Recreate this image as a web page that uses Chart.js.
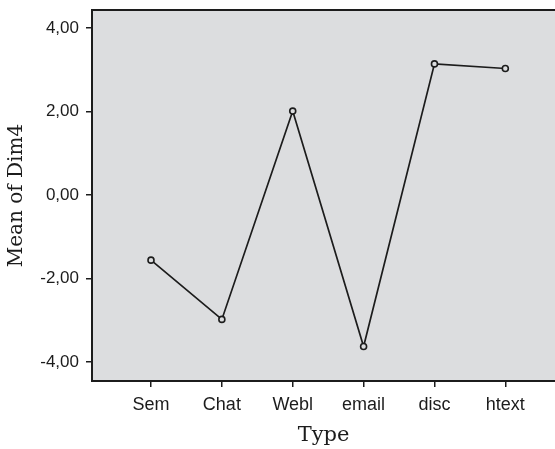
<!DOCTYPE html>
<html>
<head>
<meta charset="utf-8">
<script src="https://cdn.jsdelivr.net/npm/chart.js@4/dist/chart.umd.min.js"></script>
<style>
  html, body { margin: 0; padding: 0; background: #ffffff; }
  #wrap { width: 555px; height: 449px; position: relative; }
</style>
</head>
<body>
<div id="wrap"><canvas id="c" width="555" height="449"></canvas></div>
<script>
const categories = ["Sem", "Chat", "Webl", "email", "disc", "htext"];
const meanDim4 = [-1.56, -2.98, 2.01, -3.63, 3.14, 3.03];
const yTicks = [-4, -2, 0, 2, 4];

const plotBg = '#dcdddf';
const ink = '#1c1c1c';

const frame = {
  id: 'frame',
  beforeDraw(chart) {
    const { ctx, chartArea: a } = chart;
    ctx.save();
    ctx.fillStyle = plotBg;
    ctx.fillRect(a.left, a.top, a.right - a.left, a.bottom - a.top);
    ctx.restore();
  },
  beforeDatasetsDraw(chart) {
    const { ctx, chartArea: a } = chart;
    ctx.save();
    ctx.strokeStyle = ink;
    ctx.lineWidth = 2;
    ctx.beginPath();
    ctx.moveTo(a.right, a.top);
    ctx.lineTo(a.left, a.top);
    ctx.lineTo(a.left, a.bottom);
    ctx.lineTo(a.right, a.bottom);
    ctx.stroke();
    ctx.restore();
  }
};

const points = categories.map((c, i) => ({ x: i + 1, y: meanDim4[i] }));

new Chart(document.getElementById('c'), {
  type: 'line',
  data: {
    datasets: [{
      data: points,
      borderColor: ink,
      borderWidth: 1.7,
      pointRadius: 3,
      pointBorderWidth: 1.6,
      pointBorderColor: ink,
      pointBackgroundColor: plotBg,
      tension: 0,
      fill: false
    }]
  },
  options: {
    responsive: false,
    animation: false,
    layout: { autoPadding: false, padding: { top: 10, left: 0, right: 0, bottom: 0 } },
    plugins: { legend: { display: false }, tooltip: { enabled: false } },
    scales: {
      x: {
        type: 'linear',
        min: 0.1674,
        max: 6.701,
        afterFit(s) { s.height = 68; s.paddingLeft = 0; s.paddingRight = 0; },
        ticks: {
          stepSize: 1,
          includeBounds: false,
          autoSkip: false,
          maxRotation: 0,
          padding: 7,
          color: ink,
          font: { family: 'Liberation Sans, Arial, sans-serif', size: 18 },
          callback: (v) => categories[v - 1] ?? ''
        },
        afterBuildTicks(s) { s.ticks = categories.map((c, i) => ({ value: i + 1 })); },
        grid: { display: true, drawOnChartArea: false, drawTicks: true, tickLength: 6, tickColor: ink, lineWidth: 1.5 },
        border: { display: false },
        title: {
          display: true,
          text: 'Type',
          color: ink,
          padding: { top: 0, bottom: 1 },
          font: { family: 'DejaVu Serif, serif', size: 21 }
        }
      },
      y: {
        min: -4.455,
        max: 4.431,
        afterFit(s) { s.width = 92; s.paddingTop = 0; s.paddingBottom = 0; },
        afterBuildTicks(s) { s.ticks = yTicks.map(v => ({ value: v })); },
        ticks: {
          stepSize: 2,
          includeBounds: false,
          padding: 7,
          color: ink,
          font: { family: 'Liberation Sans, Arial, sans-serif', size: 17 },
          callback: (v) => v.toFixed(2).replace('.', ',')
        },
        grid: { display: true, drawOnChartArea: false, drawTicks: true, tickLength: 6, tickColor: ink, lineWidth: 1.5 },
        border: { display: false },
        title: {
          display: true,
          text: 'Mean of Dim4',
          color: ink,
          padding: { top: 5, bottom: 0 },
          font: { family: 'DejaVu Serif, serif', size: 20 }
        }
      }
    }
  },
  plugins: [frame]
});
</script>
</body>
</html>
